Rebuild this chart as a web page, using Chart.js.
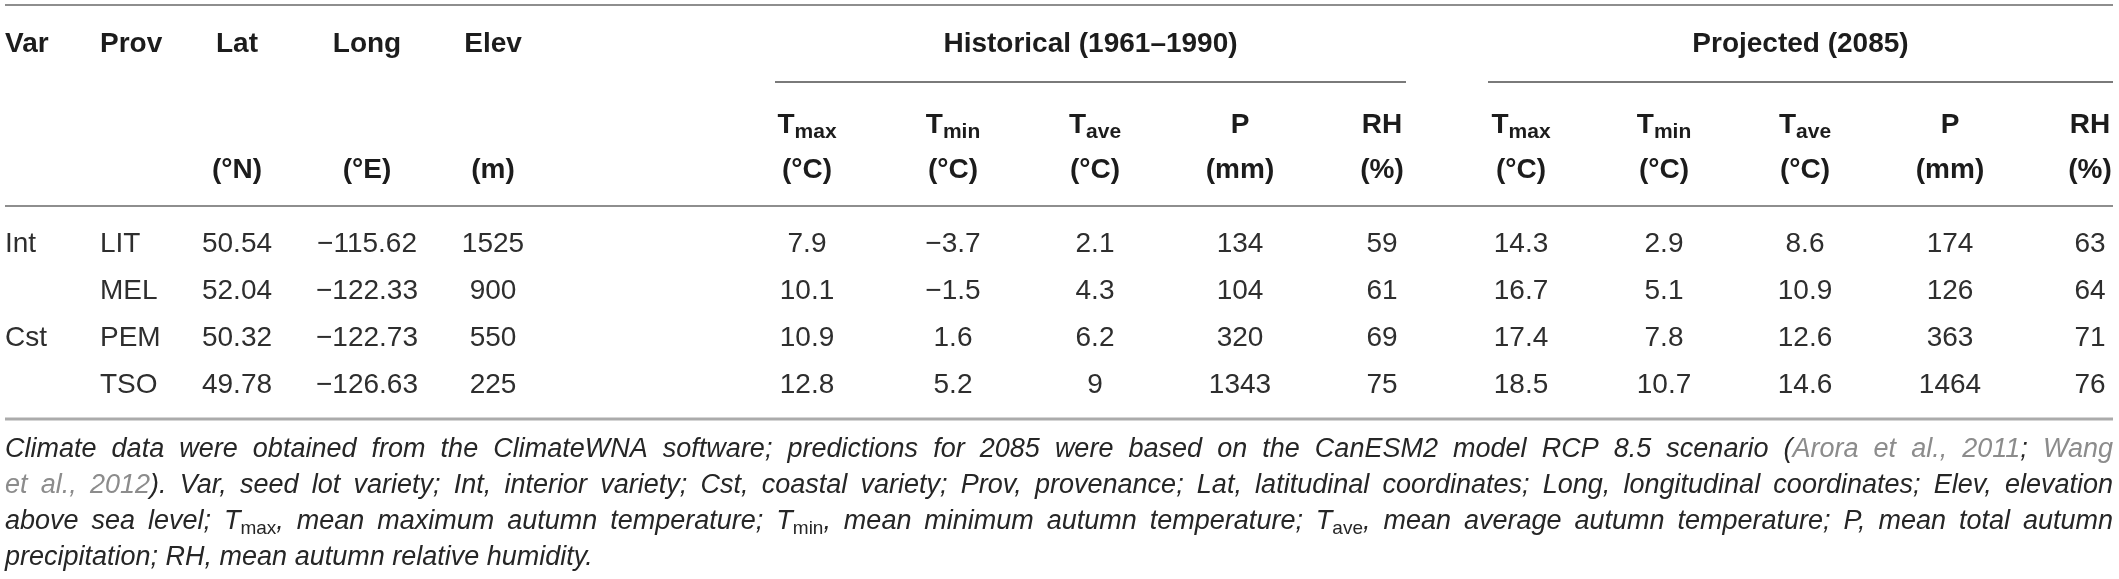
<!DOCTYPE html>
<html>
<head>
<meta charset="utf-8">
<script src="https://cdn.jsdelivr.net/npm/chart.js@4"></script>
<style>
  html, body { margin: 0; padding: 0; background: #ffffff; }
  #wrap { width: 2119px; height: 579px; position: relative; }
</style>
</head>
<body>
<div id="wrap"><canvas id="c" width="2119" height="579"></canvas></div>
<script>
// ---------------- DATA ----------------
const VARIETIES   = ['Int', '', 'Cst', ''];
const PROVENANCES = ['LIT', 'MEL', 'PEM', 'TSO'];
const LAT         = [50.54, 52.04, 50.32, 49.78];
const LONG        = [-115.62, -122.33, -122.73, -126.63];
const ELEV        = [1525, 900, 550, 225];
const HIST_TMAX   = [7.9, 10.1, 10.9, 12.8];
const HIST_TMIN   = [-3.7, -1.5, 1.6, 5.2];
const HIST_TAVE   = [2.1, 4.3, 6.2, 9];
const HIST_P      = [134, 104, 320, 1343];
const HIST_RH     = [59, 61, 69, 75];
const PROJ_TMAX   = [14.3, 16.7, 17.4, 18.5];
const PROJ_TMIN   = [2.9, 5.1, 7.8, 10.7];
const PROJ_TAVE   = [8.6, 10.9, 12.6, 14.6];
const PROJ_P      = [174, 126, 363, 1464];
const PROJ_RH     = [63, 64, 71, 76];

// header labels
const TOP_HEADERS   = ['Var', 'Prov', 'Lat', 'Long', 'Elev'];
const GROUP_TITLES  = ['Historical (1961\u20131990)', 'Projected (2085)'];
const VAR_HEADERS   = [['T', 'max'], ['T', 'min'], ['T', 'ave'], ['P', ''], ['RH', '']];
const UNIT_HEADERS  = ['', '', '(\u00b0N)', '(\u00b0E)', '(m)',
                       '(\u00b0C)', '(\u00b0C)', '(\u00b0C)', '(mm)', '(%)',
                       '(\u00b0C)', '(\u00b0C)', '(\u00b0C)', '(mm)', '(%)'];
const CAPTION = [
  [['Climate data were obtained from the ClimateWNA software; predictions for 2085 were based on the CanESM2 model RCP 8.5 scenario (', 'n'], ['Arora et al., 2011', 'g'], ['; ', 'n'], ['Wang', 'g']],
  [['et al., 2012', 'g'], ['). Var, seed lot variety; Int, interior variety; Cst, coastal variety; Prov, provenance; Lat, latitudinal coordinates; Long, longitudinal coordinates; Elev, elevation', 'n']],
  [['above sea level; T', 'n'], ['max', 's'], [', mean maximum autumn temperature; T', 'n'], ['min', 's'], [', mean minimum autumn temperature; T', 'n'], ['ave', 's'], [', mean average autumn temperature; P, mean total autumn', 'n']],
  [['precipitation; RH, mean autumn relative humidity.', 'n']]
];

// ---------------- LAYOUT (positions / styles) ----------------
const COLUMNS = [VARIETIES, PROVENANCES, LAT, LONG, ELEV,
                 HIST_TMAX, HIST_TMIN, HIST_TAVE, HIST_P, HIST_RH,
                 PROJ_TMAX, PROJ_TMIN, PROJ_TAVE, PROJ_P, PROJ_RH];
const COL_X     = [5, 100, 237, 367, 493, 807, 953, 1095, 1240, 1382, 1521, 1664, 1805, 1950, 2090];
const COL_ALIGN = ['left', 'left', 'center', 'center', 'center', 'center', 'center', 'center', 'center', 'center', 'center', 'center', 'center', 'center', 'center'];
const ROW_Y     = [252, 299, 346, 393];
const LEFT = 5, RIGHT = 2113;
const FONT = '"Liberation Sans", Arial, Helvetica, sans-serif';

function fmt(v) {
  if (typeof v === 'number') return String(v).replace('-', '\u2212');
  return v;
}

const datasets = COLUMNS.map((col, c) => ({
  label: 'col' + c,
  data: col.map((v, r) => ({ x: COL_X[c], y: ROW_Y[r], v: fmt(v) })),
  pointRadius: 0,
  pointHoverRadius: 0,
  showLine: false
}));

function hline(ctx, xs, x0, x1, y, color, w) {
  ctx.save();
  ctx.strokeStyle = color;
  ctx.lineWidth = w;
  ctx.beginPath();
  ctx.moveTo(xs.getPixelForValue(x0), y);
  ctx.lineTo(xs.getPixelForValue(x1), y);
  ctx.stroke();
  ctx.restore();
}

const tablePlugin = {
  id: 'tablePlugin',
  afterDatasetsDraw(chart) {
    const ctx = chart.ctx;
    const xs = chart.scales.x, ys = chart.scales.y;
    const Y = v => ys.getPixelForValue(v);

    // rules
    hline(ctx, xs, LEFT, RIGHT, Y(5), '#8e8e8e', 2);
    hline(ctx, xs, 775, 1406, Y(82), '#7a7a7a', 2);
    hline(ctx, xs, 1488, RIGHT, Y(82), '#7a7a7a', 2);
    hline(ctx, xs, LEFT, RIGHT, Y(206), '#8e8e8e', 2);
    hline(ctx, xs, LEFT, RIGHT, Y(419), '#ababab', 3);

    ctx.save();
    ctx.textBaseline = 'alphabetic';
    ctx.fillStyle = '#1c1c1c';
    // top headers
    ctx.font = 'bold 28px ' + FONT;
    TOP_HEADERS.forEach((h, i) => {
      ctx.textAlign = COL_ALIGN[i];
      ctx.fillText(h, xs.getPixelForValue(COL_X[i]), Y(52));
    });
    ctx.textAlign = 'center';
    ctx.fillText(GROUP_TITLES[0], xs.getPixelForValue((775 + 1406) / 2), Y(52));
    ctx.fillText(GROUP_TITLES[1], xs.getPixelForValue((1488 + RIGHT) / 2), Y(52));

    // variable headers with subscripts
    for (let g = 0; g < 2; g++) {
      VAR_HEADERS.forEach((vh, i) => {
        const c = 5 + g * 5 + i;
        ctx.font = 'bold 28px ' + FONT;
        const w1 = ctx.measureText(vh[0]).width;
        ctx.font = 'bold 21px ' + FONT;
        const w2 = vh[1] ? ctx.measureText(vh[1]).width : 0;
        const x0 = xs.getPixelForValue(COL_X[c]) - (w1 + w2) / 2;
        ctx.textAlign = 'left';
        ctx.font = 'bold 28px ' + FONT;
        ctx.fillText(vh[0], x0, Y(133));
        if (vh[1]) {
          ctx.font = 'bold 21px ' + FONT;
          ctx.fillText(vh[1], x0 + w1, Y(138));
        }
      });
    }
    // unit headers
    ctx.font = 'bold 28px ' + FONT;
    ctx.textAlign = 'center';
    UNIT_HEADERS.forEach((u, c) => {
      if (u) ctx.fillText(u, xs.getPixelForValue(COL_X[c]), Y(178));
    });

    // cells
    ctx.font = '28px ' + FONT;
    ctx.fillStyle = '#2e2e2e';
    chart.data.datasets.forEach((ds, c) => {
      const meta = chart.getDatasetMeta(c);
      ctx.textAlign = COL_ALIGN[c];
      meta.data.forEach((el, r) => {
        const t = ds.data[r].v;
        if (t !== '') ctx.fillText(t, el.x, el.y);
      });
    });

    // caption
    const capY = [457, 493, 529, 565];
    const fN = 'italic 27px ' + FONT, fS = '19px ' + FONT;
    CAPTION.forEach((line, li) => {
      const toks = [];
      line.forEach(([txt, st]) => {
        txt.split(/( )/).forEach(p => {
          if (p === '') return;
          toks.push({ t: p, st: st, sp: p === ' ' });
        });
      });
      ctx.font = fN;
      const spW = ctx.measureText(' ').width;
      let wordW = 0, nsp = 0;
      toks.forEach(k => {
        if (k.sp) { nsp++; return; }
        ctx.font = k.st === 's' ? fS : fN;
        k.w = ctx.measureText(k.t).width;
        wordW += k.w;
      });
      const avail = RIGHT - LEFT;
      const justify = li < CAPTION.length - 1;
      let gap = spW, sx = 1;
      if (justify) {
        gap = (avail - wordW) / nsp;
        if (gap < spW * 0.75) {
          gap = spW * 0.75;
          sx = avail / (wordW + gap * nsp);
        }
      }
      ctx.save();
      ctx.translate(xs.getPixelForValue(LEFT), Y(capY[li]));
      ctx.scale(sx, 1);
      ctx.textAlign = 'left';
      let x = 0;
      toks.forEach(k => {
        if (k.sp) { x += gap; return; }
        ctx.font = k.st === 's' ? fS : fN;
        ctx.fillStyle = k.st === 'g' ? '#8c8c8c' : '#262626';
        ctx.fillText(k.t, x, k.st === 's' ? 5 : 0);
        x += k.w;
      });
      ctx.restore();
    });
    ctx.restore();
  }
};

new Chart(document.getElementById('c'), {
  type: 'scatter',
  data: { datasets },
  options: {
    responsive: false,
    devicePixelRatio: 1,
    animation: false,
    events: [],
    layout: { padding: 0 },
    plugins: { legend: { display: false }, tooltip: { enabled: false }, title: { display: false } },
    scales: {
      x: { type: 'linear', min: 0, max: 2119, display: false },
      y: { type: 'linear', min: 0, max: 579, reverse: true, display: false }
    }
  },
  plugins: [tablePlugin]
});
</script>
</body>
</html>
